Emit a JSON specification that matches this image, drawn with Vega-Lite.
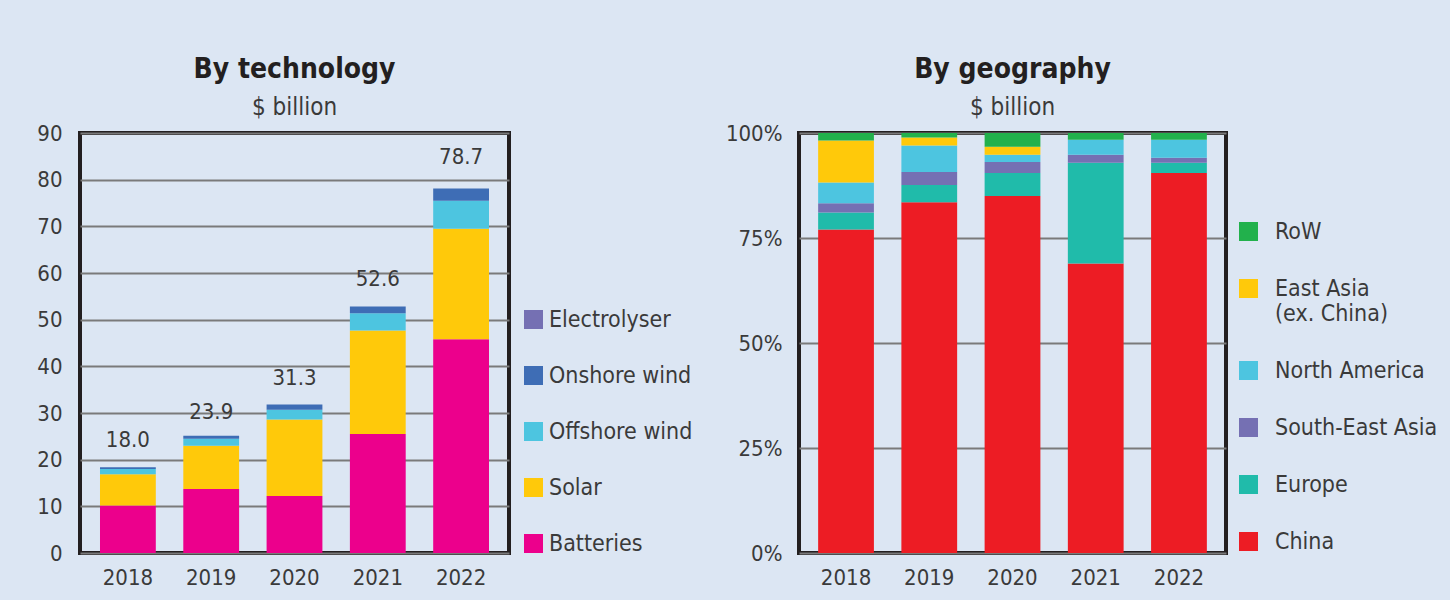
{
  "$schema": "https://vega.github.io/schema/vega-lite/v6.json",
  "background": "#dce6f3",
  "padding": {"left": 34, "top": 54, "right": 10, "bottom": 10},
  "bounds": "flush",
  "spacing": 290,
  "datasets": {
    "tech": [
      {"year": "2018", "technology": "Batteries", "value": 10.2},
      {"year": "2018", "technology": "Solar", "value": 6.7},
      {"year": "2018", "technology": "Offshore wind", "value": 1.1},
      {"year": "2018", "technology": "Onshore wind", "value": 0.4},
      {"year": "2018", "technology": "Electrolyser", "value": 0},
      {"year": "2019", "technology": "Batteries", "value": 13.7},
      {"year": "2019", "technology": "Solar", "value": 9.3},
      {"year": "2019", "technology": "Offshore wind", "value": 1.5},
      {"year": "2019", "technology": "Onshore wind", "value": 0.6},
      {"year": "2019", "technology": "Electrolyser", "value": 0},
      {"year": "2020", "technology": "Batteries", "value": 12.2},
      {"year": "2020", "technology": "Solar", "value": 16.4},
      {"year": "2020", "technology": "Offshore wind", "value": 2.1},
      {"year": "2020", "technology": "Onshore wind", "value": 1.1},
      {"year": "2020", "technology": "Electrolyser", "value": 0},
      {"year": "2021", "technology": "Batteries", "value": 25.5},
      {"year": "2021", "technology": "Solar", "value": 22.2},
      {"year": "2021", "technology": "Offshore wind", "value": 3.7},
      {"year": "2021", "technology": "Onshore wind", "value": 1.4},
      {"year": "2021", "technology": "Electrolyser", "value": 0},
      {"year": "2022", "technology": "Batteries", "value": 45.8},
      {"year": "2022", "technology": "Solar", "value": 23.7},
      {"year": "2022", "technology": "Offshore wind", "value": 6.0},
      {"year": "2022", "technology": "Onshore wind", "value": 2.6},
      {"year": "2022", "technology": "Electrolyser", "value": 0}
    ],
    "techTotals": [
      {"year": "2018", "total": 18.0},
      {"year": "2019", "total": 23.9},
      {"year": "2020", "total": 31.3},
      {"year": "2021", "total": 52.6},
      {"year": "2022", "total": 78.7}
    ],
    "geo": [
      {"year": "2018", "region": "China", "share": 77.0},
      {"year": "2018", "region": "Europe", "share": 4.1},
      {"year": "2018", "region": "South-East Asia", "share": 2.2},
      {"year": "2018", "region": "North America", "share": 4.9},
      {"year": "2018", "region": "East Asia (ex. China)", "share": 10.0},
      {"year": "2018", "region": "RoW", "share": 1.8},
      {"year": "2019", "region": "China", "share": 83.5},
      {"year": "2019", "region": "Europe", "share": 4.1},
      {"year": "2019", "region": "South-East Asia", "share": 3.1},
      {"year": "2019", "region": "North America", "share": 6.3},
      {"year": "2019", "region": "East Asia (ex. China)", "share": 1.9},
      {"year": "2019", "region": "RoW", "share": 1.1},
      {"year": "2020", "region": "China", "share": 85.0},
      {"year": "2020", "region": "Europe", "share": 5.5},
      {"year": "2020", "region": "South-East Asia", "share": 2.6},
      {"year": "2020", "region": "North America", "share": 1.7},
      {"year": "2020", "region": "East Asia (ex. China)", "share": 1.9},
      {"year": "2020", "region": "RoW", "share": 3.3},
      {"year": "2021", "region": "China", "share": 68.9},
      {"year": "2021", "region": "Europe", "share": 24.0},
      {"year": "2021", "region": "South-East Asia", "share": 1.9},
      {"year": "2021", "region": "North America", "share": 3.6},
      {"year": "2021", "region": "East Asia (ex. China)", "share": 0},
      {"year": "2021", "region": "RoW", "share": 1.6},
      {"year": "2022", "region": "China", "share": 90.5},
      {"year": "2022", "region": "Europe", "share": 2.4},
      {"year": "2022", "region": "South-East Asia", "share": 1.2},
      {"year": "2022", "region": "North America", "share": 4.3},
      {"year": "2022", "region": "East Asia (ex. China)", "share": 0},
      {"year": "2022", "region": "RoW", "share": 1.6}
    ]
  },
  "config": {
    "font": "DejaVu Sans Condensed",
    "view": {"stroke": "#231f20", "strokeWidth": 4},
    "axis": {
      "labelFont": "DejaVu Sans Condensed",
      "labelFontSize": 22,
      "labelColor": "#3a3a3a",
      "ticks": false,
      "domain": false,
      "gridColor": "#7a7a7a",
      "gridWidth": 2,
      "gridOpacity": 1,
      "title": null
    },
    "legend": {
      "labelFont": "DejaVu Sans Condensed",
      "labelFontSize": 23,
      "labelColor": "#3a3a3a",
      "symbolType": "square",
      "symbolSize": 361,
      "symbolStrokeWidth": 0,
      "symbolOpacity": 1,
      "rowPadding": 32,
      "title": null,
      "labelLimit": 300
    },
    "title": {
      "font": "DejaVu Sans Condensed",
      "fontSize": 28,
      "fontWeight": "bold",
      "color": "#231f20",
      "subtitleFont": "DejaVu Sans Condensed",
      "subtitleFontSize": 24,
      "subtitleColor": "#3a3a3a",
      "subtitlePadding": 12,
      "offset": 2,
      "anchor": "middle"
    }
  },
  "hconcat": [
    {
      "width": 429,
      "height": 420,
      "title": {"text": "By technology", "subtitle": "$ billion"},
      "layer": [
        {
          "data": {"name": "tech"},
          "transform": [{"calculate": "indexof(['Batteries', 'Solar', 'Offshore wind', 'Onshore wind', 'Electrolyser'], datum.technology)", "as": "stackOrder"}],
          "mark": {"type": "bar"},
          "encoding": {
            "x": {"field": "year", "type": "nominal", "scale": {"paddingInner": 0.33, "paddingOuter": 0.24}, "axis": {"labelAngle": 0, "labelPadding": 14, "grid": false}},
            "y": {"field": "value", "type": "quantitative", "stack": "zero", "scale": {"domain": [0, 90], "nice": false}, "axis": {"values": [0, 10, 20, 30, 40, 50, 60, 70, 80, 90], "grid": true, "labelPadding": 18}},
            "color": {
              "field": "technology",
              "type": "nominal",
              "scale": {"domain": ["Electrolyser", "Onshore wind", "Offshore wind", "Solar", "Batteries"], "range": ["#7570b3", "#3e6db5", "#4dc5e0", "#ffc90a", "#ec008c"]},
              "legend": {"orient": "none", "legendX": 442, "legendY": 175, "labelOffset": 4}
            },
            "order": {"field": "stackOrder", "type": "quantitative", "sort": "ascending"}
          }
        },
        {
          "data": {"name": "techTotals"},
          "mark": {"type": "text", "dy": -29, "fontSize": 22, "color": "#3a3a3a", "font": "DejaVu Sans Condensed"},
          "encoding": {
            "x": {"field": "year", "type": "nominal"},
            "y": {"field": "total", "type": "quantitative"},
            "text": {"field": "total", "type": "quantitative", "format": ".1f"}
          }
        }
      ]
    },
    {
      "width": 427,
      "height": 420,
      "title": {"text": "By geography", "subtitle": "$ billion"},
      "data": {"name": "geo"},
      "transform": [{"calculate": "indexof(['China', 'Europe', 'South-East Asia', 'North America', 'East Asia (ex. China)', 'RoW'], datum.region)", "as": "stackOrder"}],
      "mark": {"type": "bar"},
      "encoding": {
        "x": {"field": "year", "type": "nominal", "scale": {"paddingInner": 0.33, "paddingOuter": 0.23}, "axis": {"labelAngle": 0, "labelPadding": 14, "grid": false}},
        "y": {"field": "share", "type": "quantitative", "stack": "zero", "scale": {"domain": [0, 100], "nice": false}, "axis": {"values": [0, 25, 50, 75, 100], "grid": true, "labelPadding": 17, "labelExpr": "datum.value + '%'"}},
        "color": {
          "field": "region",
          "type": "nominal",
          "scale": {"domain": ["RoW", "East Asia (ex. China)", "North America", "South-East Asia", "Europe", "China"], "range": ["#22b14c", "#ffc90a", "#4dc5e0", "#7570b3", "#20bbaa", "#ed1c24"]},
          "legend": {"orient": "none", "legendX": 438, "legendY": 87, "labelOffset": 15, "rowPadding": 33, "labelExpr": "datum.label == 'East Asia (ex. China)' ? ['East Asia', '(ex. China)'] : datum.label"}
        },
        "order": {"field": "stackOrder", "type": "quantitative", "sort": "ascending"}
      }
    }
  ],
  "resolve": {"scale": {"color": "independent", "x": "independent", "y": "independent"}}
}
